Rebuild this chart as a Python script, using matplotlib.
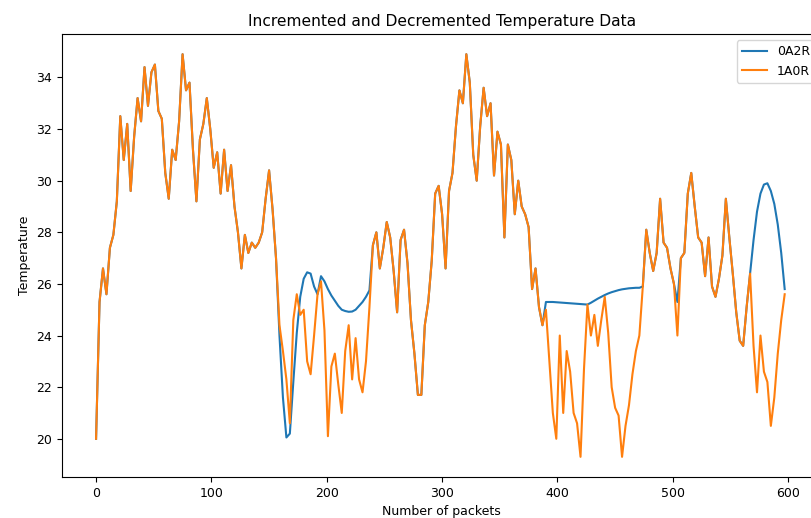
import numpy as np
import matplotlib
matplotlib.use("Agg")
import matplotlib.pyplot as plt

# temperature readings, one value every 3 packets
packets = np.arange(0, 600, 3)

temp_1a0r = [
    20.0, 25.3, 26.6, 25.6, 27.4, 27.9, 29.2, 32.5, 30.8, 32.2,
    29.6, 31.7, 33.2, 32.3, 34.4, 32.9, 34.2, 34.5, 32.7, 32.4,
    30.3, 29.3, 31.2, 30.8, 32.3, 34.9, 33.5, 33.8, 31.2, 29.2,
    31.6, 32.2, 33.2, 32.0, 30.5, 31.1, 29.5, 31.2, 29.6, 30.6,
    29.0, 28.0, 26.6, 27.9, 27.2, 27.6, 27.4, 27.6, 28.0, 29.3,
    30.4, 28.9, 27.0, 24.4, 23.4, 22.3, 20.6, 24.6, 25.6, 24.8,
    25.0, 23.0, 22.5, 24.0, 25.6, 26.1, 24.2, 20.1, 22.8, 23.3,
    22.1, 21.0, 23.4, 24.4, 22.3, 23.9, 22.3, 21.8, 23.0, 25.1,
    27.5, 28.0, 26.6, 27.4, 28.4, 27.8, 26.5, 24.9, 27.7, 28.1,
    26.8, 24.6, 23.3, 21.7, 21.7, 24.4, 25.3, 26.9, 29.5, 29.8,
    28.7, 26.6, 29.6, 30.3, 32.1, 33.5, 33.0, 34.9, 33.8, 31.0,
    30.0, 32.1, 33.6, 32.5, 33.0, 30.2, 31.9, 31.4, 27.8, 31.4,
    30.8, 28.7, 30.0, 29.0, 28.7, 28.2, 25.8, 26.6, 25.1, 24.4,
    25.0, 23.0, 21.0, 20.0, 24.0, 21.0, 23.4, 22.6, 21.0, 20.6,
    19.3, 22.7, 25.2, 24.0, 24.8, 23.6, 24.6, 25.5, 24.1, 22.0,
    21.2, 20.9, 19.3, 20.5, 21.3, 22.5, 23.4, 24.0, 25.9, 28.1,
    27.2, 26.5, 27.2, 29.3, 27.6, 27.4, 26.6, 26.0, 24.0, 27.0,
    27.2, 29.5, 30.3, 29.0, 27.8, 27.6, 26.3, 27.8, 25.9, 25.5,
    26.2, 27.1, 29.3, 27.8, 26.4, 24.9, 23.8, 23.6, 25.1, 26.4,
    23.6, 21.8, 24.0, 22.6, 22.2, 20.5, 21.6, 23.3, 24.6, 25.6,
]

# 0A2R matches 1A0R except on these stretches
fill_start = [159, 390, 504, 570]
fill_values = [
    [24.0, 21.6, 20.05, 20.2, 22.2, 24.1, 25.5, 26.2, 26.45, 26.4,
     25.9, 25.6, 26.3, 26.1, 25.8, 25.55, 25.35, 25.15, 25.0, 24.95,
     24.92, 24.93, 25.0, 25.15, 25.3, 25.5, 25.75],
    [25.3, 25.3, 25.3, 25.29, 25.28, 25.27, 25.26, 25.25, 25.24, 25.23,
     25.22, 25.21, 25.2, 25.27, 25.35, 25.43, 25.5, 25.57, 25.63, 25.68,
     25.72, 25.76, 25.79, 25.81, 25.83, 25.84, 25.85, 25.85],
    [25.3],
    [27.7, 28.8, 29.5, 29.85, 29.9, 29.6, 29.1, 28.3, 27.2, 25.8],
]

temp_0a2r = np.array(temp_1a0r, dtype=float)
for start, vals in zip(fill_start, fill_values):
    i = start // 3
    temp_0a2r[i:i + len(vals)] = vals

fig = plt.figure(figsize=(8.11, 5.18), dpi=100)
ax = fig.add_axes([0.0765, 0.0792, 0.936, 0.855])

ax.plot(packets, temp_0a2r, color="tab:blue", lw=1.5, label="0A2R")
ax.plot(packets, temp_1a0r, color="tab:orange", lw=1.5, label="1A0R")

ax.set_xlim(-29.5, 628.6)
ax.set_title("Incremented and Decremented Temperature Data", fontsize=11.2)
ax.set_xlabel("Number of packets", fontsize=9)
ax.set_ylabel("Temperature", fontsize=9)
ax.tick_params(labelsize=9)
ax.legend(loc="upper right", fontsize=9)

fig.savefig("out.png", dpi=100)
